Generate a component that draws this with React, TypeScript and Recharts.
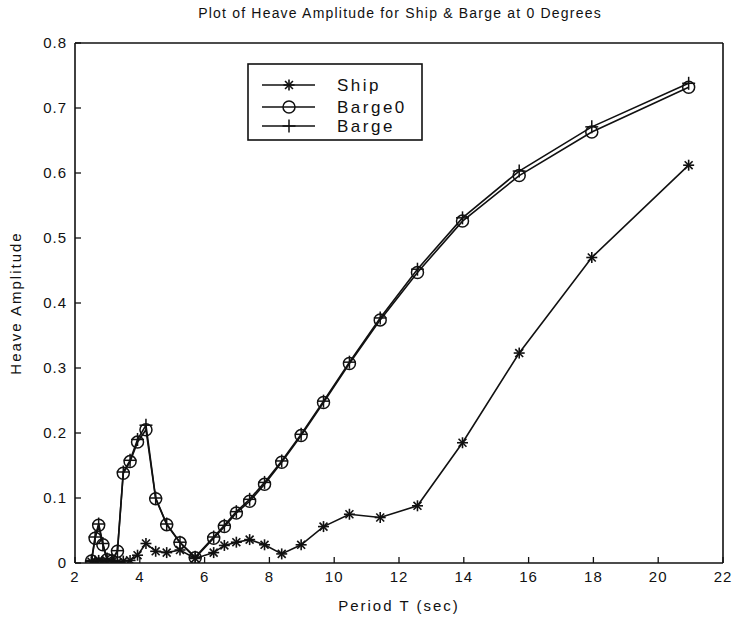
import React from "react";
import { LineChart, Line, XAxis, YAxis } from "recharts";

// periods T (sec)
const periods = [
  2.51, 2.62, 2.73, 2.86, 2.99, 3.14, 3.31, 3.49, 3.7, 3.93, 4.19, 4.49, 4.83,
  5.24, 5.71, 6.28, 6.61, 6.98, 7.39, 7.85, 8.38, 8.98, 9.67, 10.47, 11.42,
  12.57, 13.96, 15.71, 17.95, 20.94,
];
const ship = [
  0.002, 0.003, 0.004, 0.002, 0.003, 0.002, 0.001, 0.003, 0.004, 0.012, 0.03,
  0.018, 0.016, 0.02, 0.007, 0.016, 0.027, 0.032, 0.036, 0.028, 0.014, 0.028,
  0.056, 0.075, 0.07, 0.088, 0.185, 0.323, 0.47, 0.612,
];
const barge0 = [
  0.003, 0.038, 0.058, 0.028, 0.005, 0.003, 0.018, 0.138, 0.156, 0.186, 0.205,
  0.099, 0.059, 0.031, 0.008, 0.038, 0.056, 0.077, 0.095, 0.121, 0.155, 0.196,
  0.247, 0.307, 0.374, 0.447, 0.526, 0.596, 0.663, 0.732,
];
const barge = [
  0.004, 0.04, 0.06, 0.03, 0.006, 0.004, 0.019, 0.14, 0.158, 0.19, 0.212, 0.1,
  0.06, 0.032, 0.009, 0.04, 0.058, 0.079, 0.098, 0.124, 0.157, 0.198, 0.249,
  0.309, 0.377, 0.452, 0.531, 0.603, 0.671, 0.738,
];
const xTicks = [2, 4, 6, 8, 10, 12, 14, 16, 18, 20, 22];
const yTicks = [0, 0.1, 0.2, 0.3, 0.4, 0.5, 0.6, 0.7, 0.8];
const seriesNames = ["Ship", "Barge0", "Barge"];

const data = periods.map((t, i) => ({
  t,
  Ship: ship[i],
  Barge0: barge0[i],
  Barge: barge[i],
}));

const FONT = "'Liberation Sans', Arial, Helvetica, sans-serif";
const INK = "#111";

const Star = ({ cx, cy, r = 5.5 }: any) => {
  const d = r * 0.72;
  return (
    <g stroke={INK} strokeWidth={1.6}>
      <line x1={cx - r} y1={cy} x2={cx + r} y2={cy} />
      <line x1={cx} y1={cy - r} x2={cx} y2={cy + r} />
      <line x1={cx - d} y1={cy - d} x2={cx + d} y2={cy + d} />
      <line x1={cx - d} y1={cy + d} x2={cx + d} y2={cy - d} />
    </g>
  );
};
const Ring = ({ cx, cy, r = 6 }: any) => (
  <circle cx={cx} cy={cy} r={r} fill="none" stroke={INK} strokeWidth={1.5} />
);
const Plus = ({ cx, cy, r = 6.5 }: any) => (
  <g stroke={INK} strokeWidth={1.5}>
    <line x1={cx - r} y1={cy} x2={cx + r} y2={cy} />
    <line x1={cx} y1={cy - r} x2={cx} y2={cy + r} />
  </g>
);

const markers: Record<string, any> = { Ship: Star, Barge0: Ring, Barge: Plus };

const dot = (name: string) => (p: any) => {
  const M = markers[name];
  return <M key={`${name}-${p.index}`} cx={p.cx} cy={p.cy} />;
};

const rowY = [22, 44, 63];

const LegendBox = () => (
  <svg
    width={176}
    height={78}
    style={{ position: "absolute", left: 247, top: 63 }}
  >
    <rect x={1} y={1} width={174} height={76} fill="#fff" stroke={INK} strokeWidth={1.6} />
    {seriesNames.map((name, i) => {
      const M = markers[name];
      const y = rowY[i];
      return (
        <g key={name}>
          <line x1={15} y1={y} x2={68} y2={y} stroke={INK} strokeWidth={1.6} />
          <M cx={42} cy={y} />
          <text
            x={90}
            y={y + 6}
            fill={INK}
            fontFamily={FONT}
            fontSize={17}
            letterSpacing={2.5}
          >
            {name}
          </text>
        </g>
      );
    })}
  </svg>
);

const axisLine = { stroke: INK, strokeWidth: 1.6 };
const tickLine = { stroke: INK, strokeWidth: 1.3 };
const tickStyle = { fill: INK, fontSize: 15, fontFamily: FONT, letterSpacing: 1 };

export default function App() {
  return (
    <div style={{ position: "absolute", left: 0, top: 0, width: 736, height: 619, background: "#fff" }}>
      <div
        style={{
          position: "absolute",
          left: 0,
          width: 736,
          top: 5,
          textAlign: "center",
          paddingLeft: 64,
          boxSizing: "border-box",
          fontFamily: FONT,
          fontSize: 14,
          letterSpacing: 1.2,
          color: INK,
        }}
      >
        Plot of Heave Amplitude for Ship &amp; Barge at 0 Degrees
      </div>
      <LineChart
        width={736}
        height={619}
        data={data}
        margin={{ top: 13, right: 0, bottom: 0, left: 0 }}
      >
        <XAxis
          dataKey="t"
          type="number"
          domain={[2, 22]}
          ticks={xTicks}
          height={56}
          tickSize={-6}
          tickMargin={14}
          axisLine={axisLine}
          tickLine={tickLine}
          tick={tickStyle}
          label={{ value: "Period T (sec)", position: "insideBottom", offset: 8, fill: INK, fontSize: 15, fontFamily: FONT, letterSpacing: 2 }}
          allowDataOverflow
        />
        <XAxis
          xAxisId="top"
          orientation="top"
          type="number"
          domain={[2, 22]}
          ticks={xTicks}
          height={30}
          tickSize={-6}
          tick={false}
          axisLine={axisLine}
          tickLine={tickLine}
          allowDataOverflow
        />
        <YAxis
          type="number"
          domain={[0, 0.8]}
          ticks={yTicks}
          width={75}
          tickSize={-6}
          tickMargin={14}
          axisLine={axisLine}
          tickLine={tickLine}
          tick={tickStyle}
          label={{ value: "Heave Amplitude", angle: -90, position: "insideLeft", offset: 16, fill: INK, fontSize: 15, fontFamily: FONT, letterSpacing: 2, style: { textAnchor: "middle" } }}
          allowDataOverflow
        />
        <YAxis
          yAxisId="right"
          orientation="right"
          type="number"
          domain={[0, 0.8]}
          ticks={yTicks}
          width={13}
          tickSize={-6}
          tick={false}
          axisLine={axisLine}
          tickLine={tickLine}
          allowDataOverflow
        />
        <Line dataKey="Barge" stroke={INK} strokeWidth={1.6} dot={dot("Barge")} isAnimationActive={false} />
        <Line dataKey="Barge0" stroke={INK} strokeWidth={1.6} dot={dot("Barge0")} isAnimationActive={false} />
        <Line dataKey="Ship" stroke={INK} strokeWidth={1.6} dot={dot("Ship")} isAnimationActive={false} />
      </LineChart>
      <LegendBox />
    </div>
  );
}
